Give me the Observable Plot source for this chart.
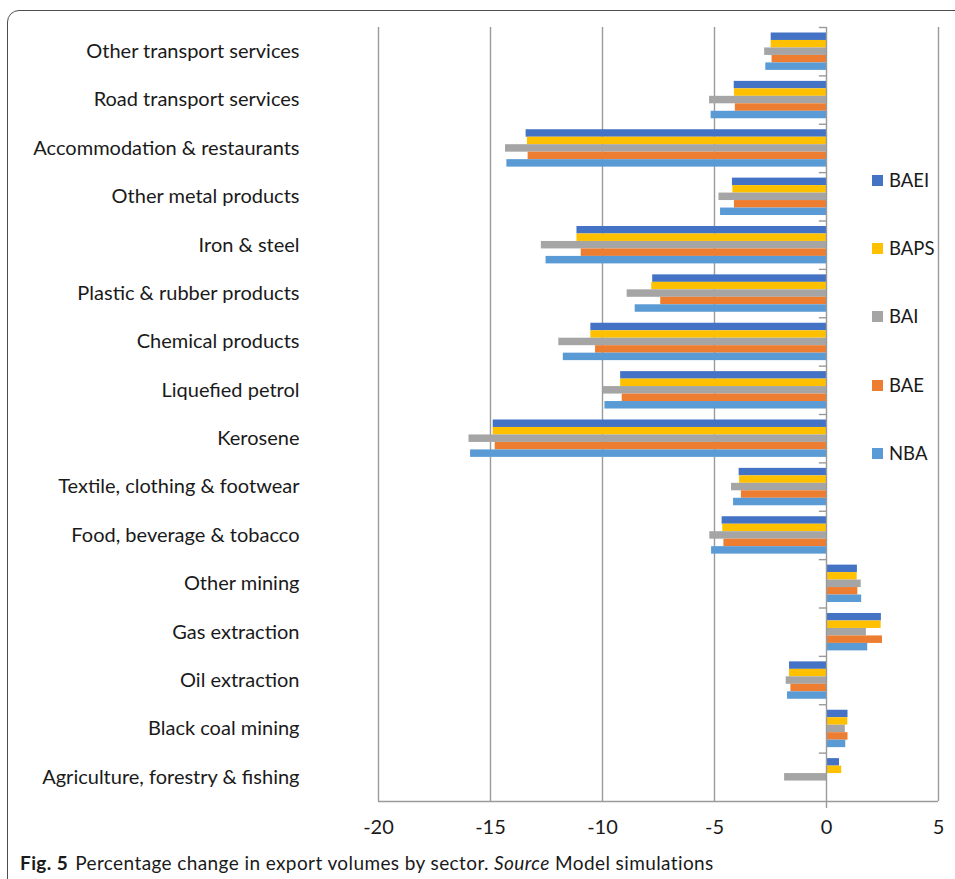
<!DOCTYPE html>
<html>
<head>
<meta charset="utf-8">
<script src="https://cdn.jsdelivr.net/npm/d3@7"></script>
<script src="https://cdn.jsdelivr.net/npm/@observablehq/plot@0.6"></script>
<style>
  body { margin: 0; background: #fff; }
  #fig { position: relative; width: 955px; height: 879px; overflow: hidden; font-family: Lato, "Open Sans", sans-serif; color: #1a1a1a; }
  #frame { position: absolute; left: 7px; top: 10px; width: 1000px; height: 920px; border: 1.6px solid #4d4d4d; border-top-left-radius: 12px; box-sizing: border-box; }
  #chart { position: absolute; left: 0; top: 0; }
  #legend { position: absolute; left: 872px; top: 0; }
  .item { position: absolute; left: 0; display: flex; align-items: center; font-size: 18.5px; white-space: nowrap; }
  .sw { width: 11px; height: 11px; margin-right: 6px; }
  #caption { position: absolute; left: 20px; top: 851px; font-size: 19px; letter-spacing: 0.4px; white-space: nowrap; }
  #caption b { margin-right: 7px; }
</style>
</head>
<body>
<div id="fig">
  <div id="frame"></div>
  <div id="chart"></div>
  <div id="legend"></div>
  <div id="caption"><b>Fig. 5</b>Percentage change in export volumes by sector. <i>Source</i> Model simulations</div>
</div>
<script>
// Sectors, listed top to bottom
const sectors = [
  "Other transport services",
  "Road transport services",
  "Accommodation & restaurants",
  "Other metal products",
  "Iron & steel",
  "Plastic & rubber products",
  "Chemical products",
  "Liquefied petrol",
  "Kerosene",
  "Textile, clothing & footwear",
  "Food, beverage & tobacco",
  "Other mining",
  "Gas extraction",
  "Oil extraction",
  "Black coal mining",
  "Agriculture, forestry & fishing"
];

// Scenario names, in the order drawn within each sector (top to bottom)
const scenarios = ["BAEI", "BAPS", "BAI", "BAE", "NBA"];

// Percentage change in export volume per sector, one array per scenario
const BAEI = [-2.47, -4.12, -13.41, -4.20, -11.14, -7.76, -10.52, -9.19, -14.88, -3.90, -4.66, 1.38, 2.45, -1.65, 0.96, 0.58];
const BAPS = [-2.47, -4.11, -13.35, -4.18, -11.14, -7.80, -10.52, -9.19, -14.88, -3.88, -4.63, 1.37, 2.44, -1.65, 0.95, 0.68];
const BAI  = [-2.76, -5.22, -14.33, -4.80, -12.73, -8.90, -11.95, -9.97, -15.96, -4.24, -5.21, 1.55, 1.78, -1.80, 0.84, -1.87];
const BAE  = [-2.43, -4.07, -13.32, -4.11, -10.95, -7.40, -10.31, -9.12, -14.79, -3.80, -4.58, 1.40, 2.50, -1.59, 0.96, 0.00];
const NBA  = [-2.71, -5.15, -14.27, -4.73, -12.52, -8.54, -11.75, -9.89, -15.89, -4.15, -5.13, 1.57, 1.84, -1.74, 0.86, 0.00];

// Value axis ticks
const xTicks = [-20, -15, -10, -5, 0, 5];

const seriesValues = {BAEI, BAPS, BAI, BAE, NBA};
const palette = ["#4472C4", "#FFC000", "#A5A5A5", "#ED7D31", "#5B9BD5"];

// Layout
const W = 955, H = 845;
const mTop = 27, mBottom = 44, mLeft = 378, mRight = 17;
const padInner = 0.227, padOuter = padInner / 2;
const step = (H - mTop - mBottom) / sectors.length;
const bandwidth = step * (1 - padInner);
const slice = bandwidth / scenarios.length;

const rows = scenarios.map((s) =>
  sectors.map((sector, j) => ({sector, scenario: s, value: seriesValues[s][j]}))
);

const bars = scenarios.map((s, i) =>
  Plot.barX(rows[i], {
    x: "value",
    y: "sector",
    fill: "scenario",
    insetTop: i * slice,
    insetBottom: (scenarios.length - 1 - i) * slice
  })
);

const chart = Plot.plot({
  width: W,
  height: H,
  marginTop: mTop,
  marginBottom: mBottom,
  marginLeft: mLeft,
  marginRight: mRight,
  style: {fontFamily: "Lato, 'Open Sans', sans-serif", fontSize: "20px", color: "#1a1a1a", background: "transparent"},
  x: {domain: [-20, 5], ticks: xTicks, tickFormat: (d) => String(d), label: null},
  y: {domain: sectors, paddingInner: padInner, paddingOuter: padOuter, round: false, label: null},
  color: {domain: scenarios, range: palette},
  marks: [
    Plot.ruleX(xTicks.filter((d) => d !== 0), {stroke: "#9a9a9a", strokeWidth: 1.4}),
    ...bars,
    Plot.ruleX([0], {stroke: "#9a9a9a", strokeWidth: 1.4, insetBottom: -7}),
    Plot.ruleY(sectors, {y: (d) => d, x1: -0.32, x2: 0, dy: -step / 2, stroke: "#9a9a9a", strokeWidth: 1.4}),
    Plot.ruleY([sectors[sectors.length - 1]], {y: (d) => d, x1: -20, x2: 5, dy: step / 2, stroke: "#9a9a9a", strokeWidth: 1.4}),
    Plot.axisX({ticks: xTicks, tickFormat: (d) => String(d), tickSize: 0, tickPadding: 18, fontSize: 20, label: null}),
    Plot.axisY({tickSize: 0, tickPadding: 79, fontSize: 20, label: null})
  ]
});
document.getElementById("chart").appendChild(chart);

// Legend entries at the right of the plot
const legend = document.getElementById("legend");
const legendTop = [181, 249, 317, 386, 454];
scenarios.forEach((s, i) => {
  const item = document.createElement("div");
  item.className = "item";
  item.style.top = (legendTop[i] - 12) + "px";
  item.innerHTML = `<span class="sw" style="background:${palette[i]}"></span><span>${s}</span>`;
  legend.appendChild(item);
});
</script>
</body>
</html>
